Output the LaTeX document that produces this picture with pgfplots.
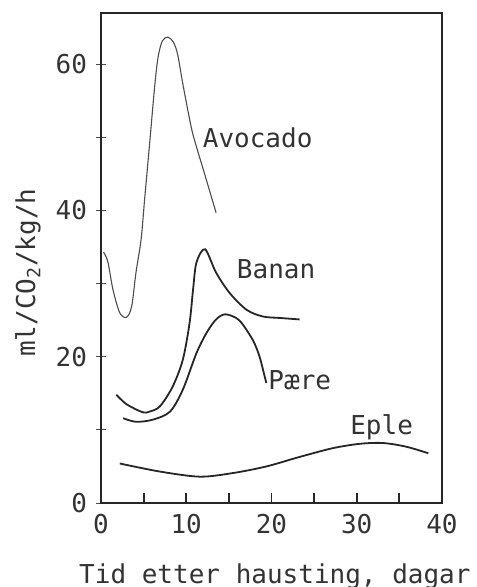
\documentclass[border=0pt]{standalone}
\usepackage{fontspec}
\setmainfont{DejaVu Sans Mono}
\usepackage{pgfplots}
\pgfplotsset{compat=1.18}
\usepackage{pgfplotstable}
\pgfplotstableread{
x y
0.3 34.3
0.8 33.0
1.4 29.2
2.2 26.0
3.0 25.4
3.6 26.9
4.1 31.5
4.7 36.0
5.1 41.3
5.4 45.2
5.7 49.1
6.3 57
6.7 61
7.2 63.2
7.85 63.7
8.5 63
9.0 61.3
9.6 57.3
10.6 51.3
11.3 48.3
12.0 45.6
13.5 39.7
}\avocado
\pgfplotstableread{
x y
1.8 14.8
3.0 13.5
4.9 12.4
5.7 12.5
6.9 13.2
8.4 15.9
9.6 19.6
10.4 24.7
10.8 29.2
11.2 32.9
12.2 34.7
13.5 31.5
15.1 28.7
17.1 26.4
19.0 25.5
21.0 25.3
23.3 25.1
}\banan
\pgfplotstableread{
x y
2.6 11.6
4.1 11.1
6.1 11.4
8.1 12.5
9.6 15.5
11.2 20.5
12.4 23.3
13.5 25.1
14.6 25.8
16.2 25.0
17.8 22.3
18.6 20.0
19.2 17.3
19.4 16.4
}\paere
\pgfplotstableread{
x y
2.2 5.4
6.9 4.3
11.6 3.6
15.5 4.1
19.4 5.0
23.3 6.3
27.2 7.5
30.4 8.1
33.1 8.2
35.8 7.7
38.4 6.8
}\eple
\begin{document}
\begin{tikzpicture}
\begin{axis}[
  name=ax,
  scale only axis,
  width=170.5pt, height=245pt,
  xmin=0, xmax=40, ymin=0, ymax=67,
  axis line style={line width=1pt, black!85},
  xtick={0,10,20,30,40},
  minor xtick={5,15,25,35},
  ytick={0,20,40,60},
  minor ytick={10,30,50},
  xtick pos=bottom, ytick pos=left,
  major tick length=5pt, minor tick length=5pt,
  x tick style={line width=0.9pt, black!85},
  y tick style={line width=0.5pt, black!70},
  xtick align=inside, ytick align=center,
  /pgf/number format/assume math mode=true,
  ticklabel style={font=\fontsize{13}{15}\selectfont, text=black!80},
  xticklabel style={yshift=-2pt},
  yticklabel style={xshift=-1pt},
  xlabel={Tid etter hausting, dagar},
  xlabel style={font=\fontsize{13}{15}\selectfont, text=black!80, at={(rel axis cs:0.51,0)}, anchor=north, yshift=-27pt},
  ylabel={ml/CO\textsubscript{2}/kg/h},
  ylabel style={font=\fontsize{13}{15}\selectfont, text=black!80, at={(rel axis cs:0,0.47)}, anchor=center, yshift=36.5pt},
  clip=false,
]
\addplot[black!70, line width=0.55pt, smooth] table {\avocado};
\addplot[black!85, line width=0.9pt, smooth] table {\banan};
\addplot[black!85, line width=0.9pt, smooth] table {\paere};
\addplot[black!85, line width=0.9pt, smooth] table {\eple};
\node[anchor=west, font=\fontsize{13}{15}\selectfont, text=black!80, inner sep=0pt] at (axis cs:11.9,49.9) {Avocado};
\node[anchor=west, font=\fontsize{13}{15}\selectfont, text=black!80, inner sep=0pt] at (axis cs:15.9,32) {Banan};
\node[anchor=west, font=\fontsize{13}{15}\selectfont, text=black!80, inner sep=0pt] at (axis cs:19.6,16.8) {Pære};
\node[anchor=west, font=\fontsize{13}{15}\selectfont, text=black!80, inner sep=0pt] at (axis cs:29.2,10.3) {Eple};
\end{axis}
\pgfresetboundingbox
\useasboundingbox ([shift={(-50.5pt,-42pt)}]ax.south west) rectangle ([shift={(17.5pt,6.5pt)}]ax.north east);
\end{tikzpicture}
\end{document}
